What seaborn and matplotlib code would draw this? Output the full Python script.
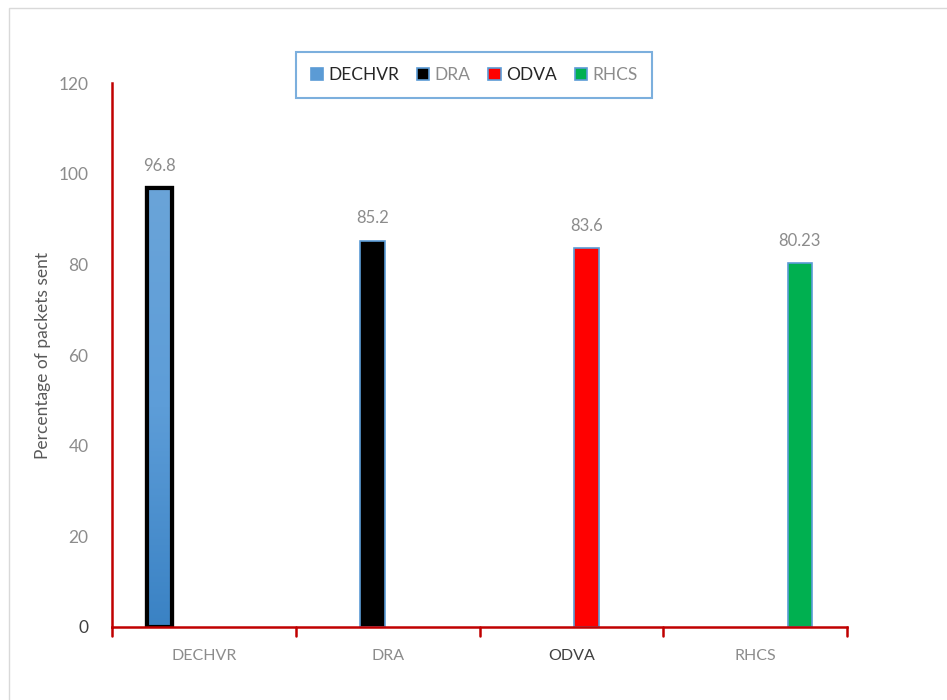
import numpy as np
import pandas as pd
import matplotlib
matplotlib.use("Agg")
import matplotlib.pyplot as plt
import matplotlib.patches as mpatches
from matplotlib.colors import LinearSegmentedColormap
import seaborn as sns

# data
methods = ["DECHVR", "DRA", "ODVA", "RHCS"]
packets_sent = [96.8, 85.2, 83.6, 80.23]
value_labels = ["96.8", "85.2", "83.6", "80.23"]
y_ticks = [0, 20, 40, 60, 80, 100, 120]

fill_colors = ["#5b9bd5", "#000000", "#ff0000", "#00b050"]
edge_colors = ["#000000", "#5b9bd5", "#5b9bd5", "#5b9bd5"]
label_grey = "#8c8c8c"
axis_red = "#c00000"

df = pd.DataFrame({"method": methods, "series": methods, "value": packets_sent})

sns.set_style("white")
plt.rcParams["font.family"] = ["Lato", "DejaVu Sans"]

fig = plt.figure(figsize=(9.47, 7.0), dpi=100)
ax = fig.add_axes([0.1183, 0.1043, 0.7761, 0.7771])

sns.barplot(data=df, x="method", y="value", hue="series", order=methods,
            hue_order=methods, palette=fill_colors, saturation=1, dodge=True,
            width=0.65, gap=0.17, legend=False, ax=ax, errorbar=None)

# style each bar: one real bar per series
bars = [p for p in ax.patches if p.get_height() > 0]
bars.sort(key=lambda p: p.get_x())
for i, p in enumerate(bars):
    p.set_edgecolor(edge_colors[i])
    p.set_linewidth(3.0 if i == 0 else 1.2)
    p.set_zorder(3)
    ax.text(p.get_x() + p.get_width() / 2, p.get_height() + 3.2, value_labels[i],
            ha="center", va="bottom", fontsize=12, color=label_grey)

# gradient on the first bar
b0 = bars[0]
grad = LinearSegmentedColormap.from_list("g", ["#3a82c4", "#5d9dd8", "#6aa4d9"])
img = ax.imshow(np.linspace(0, 1, 256).reshape(-1, 1), cmap=grad, aspect="auto",
                origin="lower",
                extent=[b0.get_x(), b0.get_x() + b0.get_width(), 0, b0.get_height()],
                zorder=3.5)
img.set_clip_path(b0)
outline = mpatches.Rectangle((b0.get_x(), 0), b0.get_width(), b0.get_height(),
                             fill=False, edgecolor="black", linewidth=3.0, zorder=4)
ax.add_patch(outline)

ax.set_xlim(-0.5, 3.5)
ax.set_ylim(0, 120)
ax.set_yticks(y_ticks)
ax.set_yticklabels([str(t) for t in y_ticks])
for lab in ax.get_yticklabels():
    lab.set_color("#404040" if lab.get_text() == "0" else label_grey)
    lab.set_fontsize(12.5)
ax.set_xticks(range(len(methods)))
ax.set_xticklabels(methods, fontsize=11.5)
for lab, c in zip(ax.get_xticklabels(), [label_grey, label_grey, "#404040", label_grey]):
    lab.set_color(c)
ax.tick_params(axis="x", length=0, pad=16)
ax.tick_params(axis="y", length=5, width=1.5, color=axis_red, direction="out", pad=12)

# category separator ticks on the x axis
for xb in [-0.5, 0.5, 1.5, 2.5, 3.5]:
    ax.plot([xb, xb], [0, -2.0], color=axis_red, lw=1.8, clip_on=False, zorder=5)

ax.set_xlabel("")
ax.set_ylabel("Percentage of packets sent", fontsize=12.5, color="#595959", labelpad=5)

for s in ["top", "right"]:
    ax.spines[s].set_visible(False)
for s in ["left", "bottom"]:
    ax.spines[s].set_color(axis_red)
    ax.spines[s].set_linewidth(1.8)
    ax.spines[s].set_zorder(5)

# legend
handles = [mpatches.Patch(facecolor=fill_colors[i],
                          edgecolor="#5b9bd5" if i else fill_colors[0],
                          linewidth=1.2, label=m) for i, m in enumerate(methods)]
leg = fig.legend(handles=handles, loc="center", bbox_to_anchor=(0.5005, 0.8929),
                 ncol=4, frameon=True, fancybox=False, fontsize=12.5,
                 handlelength=0.7, handleheight=0.7, handletextpad=0.3,
                 columnspacing=1.05, borderpad=0.85)
leg.get_frame().set_edgecolor("#5b9bd5")
leg.get_frame().set_linewidth(1.5)
for t, c in zip(leg.get_texts(), ["#262626", label_grey, "#262626", label_grey]):
    t.set_color(c)

# outer chart border
fig.patches.append(mpatches.Rectangle((0.009, -0.01), 1.1, 0.998, transform=fig.transFigure,
                                      fill=False, edgecolor="#d9d9d9", linewidth=1.0))

fig.savefig("out.png", dpi=100)
